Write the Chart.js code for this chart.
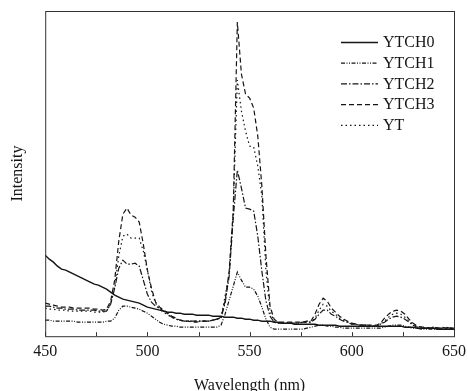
<!DOCTYPE html>
<html>
<head>
<meta charset="utf-8">
<script src="https://cdn.jsdelivr.net/npm/chart.js@4.4.1/dist/chart.umd.min.js"></script>
<style>
  html, body { margin: 0; padding: 0; background: #fff; }
  #wrap { width: 468px; height: 391px; }
</style>
</head>
<body>
<div id="wrap"><canvas id="chart"></canvas></div>
<script>
// wavelength grid (nm)
const wavelength = [
  450,452,454,456,458,460,462,464,466,468,
  470,472,474,476,478,480,482,484,486,488,
  490,492,494,496,498,500,502,504,506,508,
  510,512,514,516,518,520,522,524,526,528,
  530,532,534,536,538,540,542,544,546,548,
  550,552,554,556,558,560,562,564,566,568,
  570,572,574,576,578,580,582,584,586,588,
  590,592,594,596,598,600,602,604,606,608,
  610,612,614,616,618,620,622,624,626,628,
  630,632,634,636,638,640,642,644,646,648,
  650
];

// intensities, arbitrary units
const ytch0 = [
  81,77,74,70,67,66,64,62,60,58,
  56,54,52,51,49,47,44,41,39,37,
  36,35,34,33,31,29,28,27,26,25,
  24,24,23,23,22,22,22,21,21,21,
  21,20,20,20,19,19,19,18,18,17,
  17,16,16,15,15,15,14,14,13,13,
  13,12,12,12,12,12,12,11,11,11,
  11,11,10,10,10,10,10,10,10,10,
  10,10,10,10,10,10,10,10,9,9,
  9,8,8,8,8,8,7,7,7,7,
  7
];
const ytch1 = [
  16,16,15,15,15,15,15,15,14,14,
  14,14,14,14,14,15,15,18,26,30,
  30,29,28,27,25,23,20,17,14,12,
  11,10,10,9,9,9,9,9,9,9,
  9,9,9,11,22,36,50,64,56,49,
  49,47,40,29,17,9,7,7,7,7,
  7,7,7,7,8,9,10,11,11,10,
  10,9,9,8,8,8,8,8,8,8,
  8,8,8,9,10,11,11,11,10,9,
  8,8,7,7,7,7,7,7,7,7,
  7
];
const ytch2 = [
  30,30,29,28,28,27,27,27,26,26,
  26,26,26,25,25,25,32,48,68,76,
  72,72,73,70,56,42,34,30,28,25,
  22,19,17,16,15,15,15,15,15,15,
  15,16,17,18,33,60,118,166,148,128,
  127,125,100,65,35,20,14,13,13,13,
  13,13,13,14,14,14,17,22,26,26,
  22,20,17,15,14,12,12,11,11,11,
  10,10,12,14,17,19,20,19,17,14,
  11,9,9,8,8,9,8,8,9,8,
  8
];
const ytch3 = [
  33,32,31,30,29,29,29,28,28,28,
  28,28,27,27,26,27,35,56,95,122,
  128,121,119,114,92,66,48,34,29,26,
  23,20,18,16,15,15,14,14,15,15,
  15,16,17,19,35,65,125,314,262,242,
  238,228,200,150,80,30,17,14,14,14,
  14,14,14,14,15,15,22,32,38,35,
  28,24,20,17,15,13,12,11,11,11,
  11,11,13,18,22,25,26,25,22,17,
  13,10,9,9,8,9,8,9,8,8,
  8
];
const yt = [
  28,27,27,26,26,26,25,25,25,25,
  25,25,24,24,24,25,32,50,80,100,
  102,98,98,98,85,66,45,33,27,24,
  21,19,17,16,15,15,15,15,15,15,
  15,16,17,18,40,62,125,256,225,205,
  190,189,170,140,65,25,15,13,13,13,
  13,13,13,14,14,14,18,26,32,30,
  25,22,18,16,14,12,12,11,11,11,
  10,10,12,15,19,22,23,22,19,15,
  12,10,9,8,8,9,8,8,8,8,
  8
];

const seriesNames = ["YTCH0", "YTCH1", "YTCH2", "YTCH3", "YT"];
const seriesData = [ytch0, ytch1, ytch2, ytch3, yt];
const seriesDash = [[], [4, 1.5, 1, 1.5, 1, 1.5], [6, 2, 1.5, 2], [5, 3], [1.5, 3]];

const serif = "'Liberation Serif', 'DejaVu Serif', serif";
const ink = "#151515";

// box around the plot + inward ticks on the x axis
const framePlugin = {
  id: "frame",
  afterDraw(chart) {
    const { ctx, chartArea: a, scales } = chart;
    ctx.save();
    ctx.strokeStyle = "#333";
    ctx.lineWidth = 1;
    ctx.setLineDash([]);
    ctx.strokeRect(a.left + 0.5, a.top + 0.5, a.right - a.left, a.bottom - a.top);
    for (let v = 450; v <= 650; v += 25) {
      const x = Math.round(scales.x.getPixelForValue(v)) + 0.5;
      ctx.beginPath();
      ctx.moveTo(x, a.bottom);
      ctx.lineTo(x, a.bottom - 4);
      ctx.stroke();
    }
    ctx.restore();
  }
};

// legend in the upper right
const legendPlugin = {
  id: "lineLegend",
  afterDraw(chart) {
    const ctx = chart.ctx;
    ctx.save();
    ctx.font = "16px " + serif;
    ctx.textBaseline = "middle";
    ctx.fillStyle = ink;
    chart.data.datasets.forEach((ds, i) => {
      const y = 42 + i * 20.7;
      ctx.strokeStyle = ink;
      ctx.lineWidth = 1.3;
      ctx.setLineDash(ds.borderDash);
      ctx.beginPath();
      ctx.moveTo(341, y + 0.5);
      ctx.lineTo(378, y + 0.5);
      ctx.stroke();
      ctx.setLineDash([]);
      ctx.fillText(ds.label, 383, y + 1);
    });
    ctx.restore();
  }
};

new Chart(document.getElementById("chart"), {
  type: "line",
  data: {
    datasets: seriesNames.map((name, i) => ({
      label: name,
      data: wavelength.map((w, j) => ({ x: w, y: seriesData[i][j] })),
      borderColor: ink,
      borderWidth: i === 0 ? 1.4 : 1.2,
      borderDash: seriesDash[i],
      pointRadius: 0,
      tension: 0,
      fill: false
    }))
  },
  options: {
    responsive: true,
    maintainAspectRatio: false,
    animation: false,
    layout: { padding: { top: 11, right: 14, left: 8, bottom: 0 } },
    plugins: { legend: { display: false }, tooltip: { enabled: false } },
    scales: {
      x: {
        type: "linear",
        min: 450,
        max: 650,
        grid: { display: false, drawTicks: false },
        border: { display: false },
        afterFit: (scale) => { scale.paddingRight = 0; scale.paddingLeft = 0; },
        ticks: {
          stepSize: 50,
          padding: 6,
          color: ink,
          font: { family: serif, size: 16 },
          maxRotation: 0
        },
        title: {
          display: true,
          text: "Wavelength (nm)",
          color: ink,
          font: { family: serif, size: 16, lineHeight: 0.6 },
          padding: { top: 14, bottom: 0 }
        }
      },
      y: {
        min: 0,
        max: 325,
        grid: { display: false, drawTicks: false },
        border: { display: false },
        ticks: { display: false },
        title: {
          display: true,
          text: "Intensity",
          color: ink,
          font: { family: serif, size: 16 },
          padding: { top: 0, bottom: 18 }
        }
      }
    }
  },
  plugins: [framePlugin, legendPlugin]
});
</script>
</body>
</html>
